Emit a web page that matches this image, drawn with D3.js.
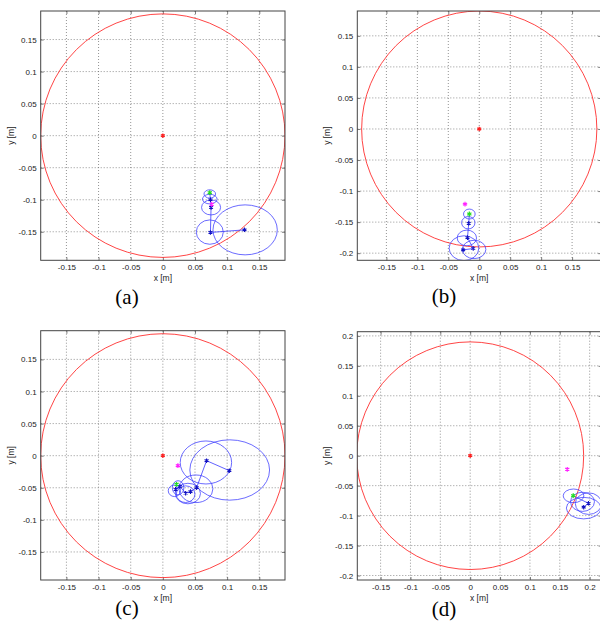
<!DOCTYPE html>
<html>
<head>
<meta charset="utf-8">
<script src="https://cdn.jsdelivr.net/npm/d3@7"></script>
<style>
html,body{margin:0;padding:0;background:#fff;}
svg{display:block;}
.cap{font-family:"Liberation Serif","DejaVu Serif",serif;font-size:21px;}
.tk text{font-family:"Liberation Sans","DejaVu Sans",sans-serif;font-size:8px;}
.lab{font-family:"Liberation Sans","DejaVu Sans",sans-serif;font-size:8.5px;}
</style>
</head>
<body>
<svg id="chart" width="600" height="626"></svg>
<script>
// ---------- data ----------
const panelLabels = ["(a)", "(b)", "(c)", "(d)"];
const ticksStd = [-0.15, -0.1, -0.05, 0, 0.05, 0.1, 0.15];
const ticksB_y = [-0.2, -0.15, -0.1, -0.05, 0, 0.05, 0.1, 0.15];
const ticksD = [-0.2, -0.15, -0.1, -0.05, 0, 0.05, 0.1, 0.15, 0.2];
const ticksD_x = [-0.15, -0.1, -0.05, 0, 0.05, 0.1, 0.15, 0.2];
const roomRadius = 0.19;
const roomCenter = [0, 0];

// panel (a)
const trackA = [[0.073, -0.089], [0.074, -0.100], [0.075, -0.112], [0.074, -0.151], [0.127, -0.147]];
const ellipsesA = [[0.073, -0.091, 0.009, 0.0065], [0.073, -0.099, 0.0114, 0.0075], [0.075, -0.112, 0.0148, 0.0117], [0.073, -0.1505, 0.021, 0.019], [0.128, -0.147, 0.050, 0.039]];
const greenA = [0.073, -0.089];
const magentaA = [0.076, -0.107];

// panel (b)
const trackB = [[-0.016, -0.137], [-0.017, -0.152], [-0.019, -0.175], [-0.0097, -0.1925], [-0.026, -0.1947]];
const ellipsesB = [[-0.016, -0.137, 0.0094, 0.008], [-0.0177, -0.151, 0.0108, 0.010], [-0.020, -0.1755, 0.0156, 0.0126], [-0.0083, -0.194, 0.019, 0.0148], [-0.0247, -0.192, 0.024, 0.020]];
const greenB = [-0.016, -0.137];
const magentaB = [-0.023, -0.121];

// panel (c)
const trackC = [[0.0213, -0.0446], [0.0198, -0.0524], [0.0265, -0.048], [0.0354, -0.0585], [0.043, -0.056], [0.0525, -0.0498], [0.068, -0.0078], [0.1034, -0.0234]];
const ellipsesC = [[0.104, -0.0223, 0.062, 0.047], [0.067, -0.0106, 0.040, 0.0335], [0.0514, -0.0516, 0.0265, 0.0215], [0.039, -0.059, 0.0195, 0.016], [0.0354, -0.060, 0.0145, 0.013], [0.0237, -0.050, 0.009, 0.011], [0.018, -0.0547, 0.0096, 0.009]];
const greenC = [0.0213, -0.0446];
const magentaC = [0.0234, -0.0156];

// panel (d)
const trackD = [[0.1725, -0.0668], [0.198, -0.0795], [0.190, -0.086]];
const ellipsesD = [[0.173, -0.067, 0.0173, 0.0114], [0.198, -0.080, 0.022, 0.018], [0.190, -0.0875, 0.029, 0.018], [0.188, -0.077, 0.020, 0.016]];
const greenD = [0.1725, -0.0668];
const magentaD = [0.1625, -0.0227];

// ---------- layout ----------
const panels = [
  {label: panelLabels[0], box: [40.7, 285, 11, 260.3], xd: [-0.19, 0.19], yd: [-0.1945, 0.1945], xt: ticksStd, yt: ticksStd,
   track: trackA, ell: ellipsesA, green: greenA, magenta: magentaA, cap: [127, 304]},
  {label: panelLabels[1], box: [357.3, 601.2, 11, 260.3], xd: [-0.197, 0.197], yd: [-0.2115, 0.19], xt: ticksStd, yt: ticksB_y,
   track: trackB, ell: ellipsesB, green: greenB, magenta: magentaB, cap: [444, 303]},
  {label: panelLabels[2], box: [40.7, 285, 330.7, 580], xd: [-0.19, 0.19], yd: [-0.1937, 0.1947], xt: ticksStd, yt: ticksStd,
   track: trackC, ell: ellipsesC, green: greenC, magenta: magentaC, cap: [127, 615]},
  {label: panelLabels[3], box: [357.3, 601.6, 331.7, 580], xd: [-0.189, 0.22], yd: [-0.2075, 0.207], xt: ticksD_x, yt: ticksD,
   track: trackD, ell: ellipsesD, green: greenD, magenta: magentaD, cap: [444, 616]}
];

const svg = d3.select("#chart");
const fmt = d => (d === 0 ? "0" : String(d));
const blue = "#3a3aff";
const darkBlue = "#1010c0";

panels.forEach((p, i) => {
  const [x0, x1, y0, y1] = p.box;
  const x = d3.scaleLinear().domain(p.xd).range([x0, x1]);
  const y = d3.scaleLinear().domain(p.yd).range([y1, y0]);
  const g = svg.append("g");
  const clipId = "clip" + i;
  svg.append("clipPath").attr("id", clipId).append("rect")
    .attr("x", x0).attr("y", y0).attr("width", x1 - x0).attr("height", y1 - y0);

  // grid
  const grid = g.append("g").attr("stroke", "#666").attr("stroke-width", 0.7).attr("stroke-dasharray", "1,2");
  grid.selectAll(".gx").data(p.xt).join("line")
    .attr("x1", d => x(d)).attr("x2", d => x(d)).attr("y1", y0).attr("y2", y1);
  grid.selectAll(".gy").data(p.yt).join("line")
    .attr("y1", d => y(d)).attr("y2", d => y(d)).attr("x1", x0).attr("x2", x1);

  // axes (ticks + labels) using d3 axes
  const axB = d3.axisBottom(x).tickValues(p.xt).tickFormat(fmt).tickSizeInner(-3).tickSizeOuter(0).tickPadding(4);
  const axL = d3.axisLeft(y).tickValues(p.yt).tickFormat(fmt).tickSizeInner(-3).tickSizeOuter(0).tickPadding(4);
  const axT = d3.axisTop(x).tickValues(p.xt).tickFormat("").tickSizeInner(-3).tickSizeOuter(0);
  const axR = d3.axisRight(y).tickValues(p.yt).tickFormat("").tickSizeInner(-3).tickSizeOuter(0);
  const styleAxis = sel => {
    sel.attr("class", "tk").attr("font-family", null).attr("font-size", null);
    sel.select(".domain").remove();
    sel.selectAll("line").attr("stroke", "#444").attr("stroke-width", 0.7);
    sel.selectAll("text").attr("fill", "#222");
  };
  g.append("g").attr("transform", `translate(0,${y1})`).call(axB).call(styleAxis);
  g.append("g").attr("transform", `translate(${x0},0)`).call(axL).call(styleAxis);
  g.append("g").attr("transform", `translate(0,${y0})`).call(axT).call(styleAxis);
  g.append("g").attr("transform", `translate(${x1},0)`).call(axR).call(styleAxis);

  // plot content
  const plot = g.append("g").attr("clip-path", `url(#${clipId})`);
  // room circle
  plot.append("ellipse")
    .attr("cx", x(roomCenter[0])).attr("cy", y(roomCenter[1]))
    .attr("rx", x(roomRadius) - x(0)).attr("ry", y(0) - y(roomRadius))
    .attr("fill", "none").attr("stroke", "#ff3030").attr("stroke-width", 0.9);

  // uncertainty ellipses
  plot.selectAll(".ell").data(p.ell).join("ellipse")
    .attr("cx", d => x(d[0])).attr("cy", d => y(d[1]))
    .attr("rx", d => x(d[0] + d[2]) - x(d[0])).attr("ry", d => y(d[1]) - y(d[1] + d[3]))
    .attr("fill", "none").attr("stroke", blue).attr("stroke-width", 0.75);

  // track line
  plot.append("path").datum(p.track)
    .attr("d", d3.line().x(d => x(d[0])).y(d => y(d[1])))
    .attr("fill", "none").attr("stroke", blue).attr("stroke-width", 0.8);

  const star = d3.symbol().type(d3.symbolAsterisk);
  const marker = (pt, color, size, w) => {
    plot.append("path").attr("d", star.size(size)())
      .attr("transform", `translate(${x(pt[0])},${y(pt[1])})`)
      .attr("fill", "none").attr("stroke", color).attr("stroke-width", w);
  };
  p.track.slice(1).forEach(pt => marker(pt, darkBlue, 14, 1.1));
  marker(p.green, "#22dd22", 16, 1.2);
  marker(p.magenta, "#ff22ff", 16, 1.2);
  marker(roomCenter, "#ff2020", 14, 1.2);

  // box
  g.append("rect").attr("x", x0).attr("y", y0).attr("width", x1 - x0).attr("height", y1 - y0)
    .attr("fill", "none").attr("stroke", "#444").attr("stroke-width", 1);

  // axis labels
  const xc = (x0 + Math.min(x1, 601)) / 2;
  g.append("text").attr("class", "lab").attr("x", xc).attr("y", y1 + 21).attr("text-anchor", "middle")
    .attr("fill", "#222").text("x [m]");
  g.append("text").attr("class", "lab").attr("transform", `translate(${x0 - 27},${(y0 + y1) / 2}) rotate(-90)`)
    .attr("text-anchor", "middle").attr("fill", "#222").text("y [m]");

  // caption
  g.append("text").attr("class", "cap").attr("x", p.cap[0]).attr("y", p.cap[1]).attr("text-anchor", "middle")
    .attr("fill", "#000").text(p.label);
});
</script>
</body>
</html>
